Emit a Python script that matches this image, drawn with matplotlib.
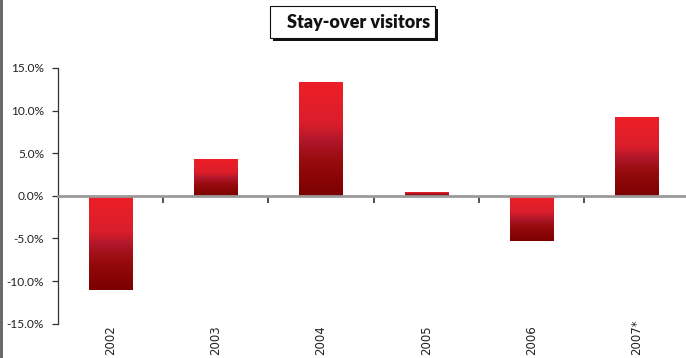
import matplotlib
matplotlib.use("Agg")
import matplotlib.pyplot as plt
import numpy as np
from matplotlib.colors import LinearSegmentedColormap
from matplotlib.patches import Rectangle
from matplotlib.transforms import blended_transform_factory

years = ["2002", "2003", "2004", "2005", "2006", "2007*"]
growth = [-11.0, 4.3, 13.4, 0.5, -5.3, 9.2]
yticks = [-15, -10, -5, 0, 5, 10, 15]
title = "Stay-over visitors"

W, H = 686, 358
fig = plt.figure(figsize=(W / 100, H / 100), dpi=100)
fig.patch.set_facecolor("white")

left, right = 58 / W, 1.0
bottom, top = 1 - 323.7 / H, 1 - 68 / H
ax = fig.add_axes([left, bottom, right - left, top - bottom])

x = np.arange(len(years))
bars = ax.bar(x, growth, width=0.41, color="none", edgecolor="none", zorder=2)

# vertical red gradient inside each bar: bright on top, dark at the bottom
cmap = LinearSegmentedColormap.from_list(
    "redgrad",
    [(0.0, "#7c0000"), (0.3, "#960b0c"), (0.48, "#b0162a"),
     (0.62, "#d91e2b"), (1.0, "#ee1f27")])
grad = np.linspace(0, 1, 256).reshape(-1, 1)
for b in bars:
    x0, y0 = b.get_x(), b.get_y()
    w, h = b.get_width(), b.get_height()
    ylo, yhi = min(y0, y0 + h), max(y0, y0 + h)
    im = ax.imshow(grad, cmap=cmap, origin="lower", aspect="auto",
                   extent=(x0, x0 + w, ylo, yhi), zorder=2,
                   interpolation="bilinear")
    im.set_clip_path(b)

ax.set_xlim(-0.5, 5.47)
ax.set_ylim(-15, 15)

# axes styling
for s in ["top", "right"]:
    ax.spines[s].set_visible(False)
ax.spines["left"].set_color("#333333")
ax.spines["left"].set_linewidth(0.9)
ax.spines["bottom"].set_position(("data", 0))
ax.spines["bottom"].set_color("#9a9a9a")
ax.spines["bottom"].set_linewidth(2.0)
ax.spines["bottom"].set_zorder(3)

ax.set_yticks(yticks)
ax.set_yticklabels([f"{v:.1f}%" for v in yticks],
                   fontfamily="Lato", fontsize=8.6, color="#222222")
ax.tick_params(axis="y", direction="out", length=4, width=0.9,
               color="#333333", pad=6)

ax.set_xticks(x)
ax.set_xticklabels([])
ax.tick_params(axis="x", which="major", length=0)
ax.set_xticks(np.arange(0.5, len(years) - 0.5, 1), minor=True)
ax.tick_params(axis="x", which="minor", direction="out", length=5,
               width=1.2, color="#333333")

# category labels along the bottom edge
trans = blended_transform_factory(ax.transData, fig.transFigure)
for xi, lab in zip(x, years):
    ax.text(xi, 3 / H, lab, rotation=90, ha="center", va="bottom",
            transform=trans, fontsize=8.5, color="#222222",
            family=["Liberation Sans Narrow", "DejaVu Sans"])

# gray strip along the left edge
fig.patches.append(Rectangle((0, 0), 3 / W, 1, transform=fig.transFigure,
                             facecolor="#6a6a6a", edgecolor="none"))

# title box with drop shadow
bx0, bx1 = 270 / W, 435 / W
by0, by1 = 1 - 38 / H, 1 - 6 / H
fig.patches.append(Rectangle((bx0 + 3 / W, by0 - 3 / H), bx1 - bx0, by1 - by0,
                             transform=fig.transFigure, facecolor="#111111",
                             edgecolor="none", zorder=1))
fig.patches.append(Rectangle((bx0, by0), bx1 - bx0, by1 - by0,
                             transform=fig.transFigure, facecolor="white",
                             edgecolor="#111111", linewidth=0.8, zorder=2))
fig.text((bx0 + bx1) / 2 + 6 / W, (by0 + by1) / 2, title, ha="center",
         va="center", fontsize=13, fontweight="heavy", fontfamily="Lato",
         color="#111111", zorder=3)

fig.savefig("out.png", dpi=100)
